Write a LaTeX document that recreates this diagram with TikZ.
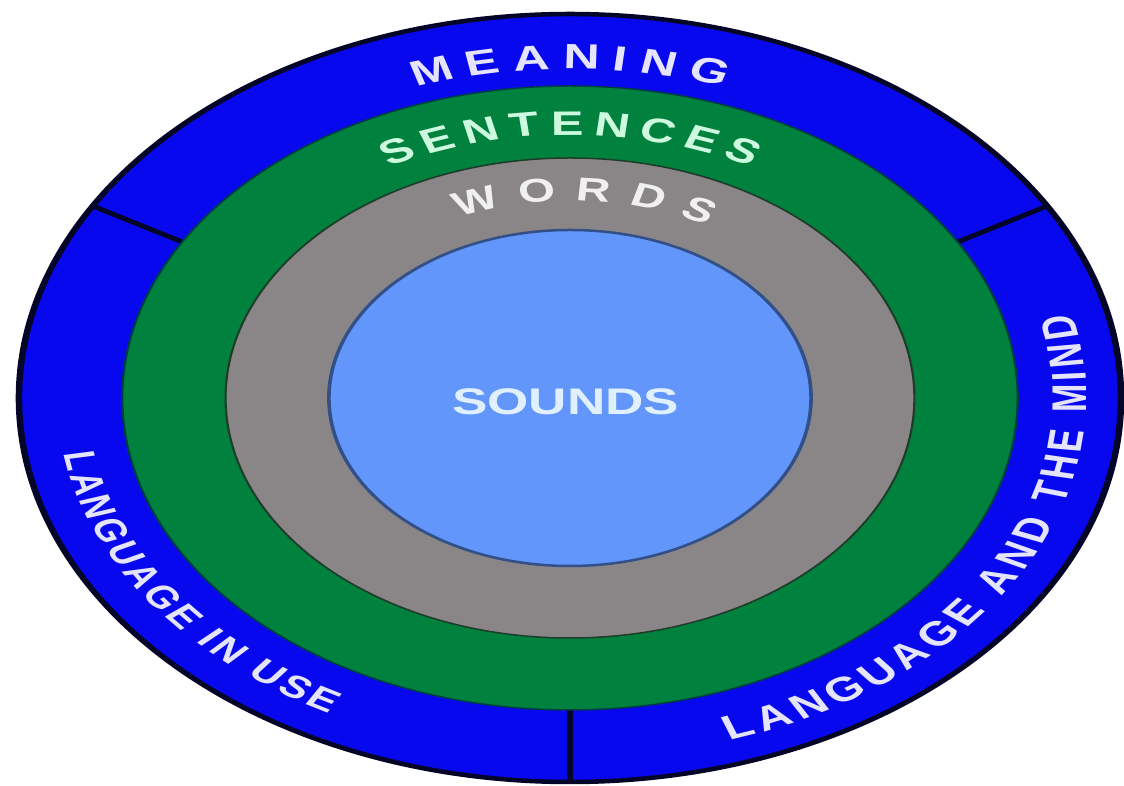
\documentclass[tikz,border=0pt]{standalone}
\usepackage{fontspec}
\usetikzlibrary{decorations.text}
\newfontfamily\labfont{Liberation Sans}
\definecolor{ringblue}{RGB}{8,8,238}
\definecolor{ringgreen}{RGB}{0,130,62}
\definecolor{ringgray}{RGB}{138,134,136}
\definecolor{soundblue}{RGB}{98,150,250}
\definecolor{borderc}{RGB}{5,5,40}
\definecolor{greenline}{RGB}{0,60,70}
\definecolor{grayline}{RGB}{30,60,40}
\definecolor{soundline}{RGB}{50,80,135}
\definecolor{tmean}{RGB}{228,228,255}
\definecolor{tsent}{RGB}{205,250,222}
\definecolor{tword}{RGB}{240,240,240}
\definecolor{tsound}{RGB}{225,240,255}
\newcommand\fmean{\labfont\bfseries\fontsize{35}{35}\selectfont\color{tmean}}
\newcommand\fsent{\labfont\bfseries\fontsize{34}{34}\selectfont\color{tsent}}
\newcommand\fword{\labfont\bfseries\fontsize{33}{33}\selectfont\color{tword}}
\newcommand\fleftside{\labfont\bfseries\fontsize{31}{31}\selectfont\color{tmean}}
\newcommand\frightside{\labfont\bfseries\fontsize{34}{34}\selectfont\color{tmean}}
\begin{document}
\begin{tikzpicture}[x=1pt,y=1pt,
  ringtext/.style={decorate, decoration={text along path, text align={fit to path}, text={#1}}},
  divider/.style={draw=borderc, line width=4.5}]
\fill[white] (0,0) rectangle (1124,786);
\useasboundingbox (0,0) rectangle (1124,786);
\begin{scope}[transform canvas={xscale=1.435}, shift={(397.2,388)}]
  % outer ring
  \draw[fill=ringblue, draw=borderc, line width=4.5] (0,0) circle[radius=384];
  % dividers
  \draw[divider] (150:300) -- (150:385);
  \draw[divider] (30:300) -- (30:385);
  \draw[divider] (270:300) -- (270:385);
  % green ring
  \draw[fill=ringgreen, draw=greenline, line width=1.5] (0,0) circle[radius=312];
  % gray ring
  \draw[fill=ringgray, draw=grayline, line width=1.5] (0,0) circle[radius=240];
  % sounds
  \draw[fill=soundblue, draw=soundline, line width=2.5] (0,0) circle[radius=168];
  \node[inner sep=0pt] (sounds) at (-3,-4) {\labfont\bfseries\fontsize{37}{37}\selectfont\color{tsound}SOUNDS};
  % ring texts
  \path[ringtext={|\fmean|MEANING}] (109:329) arc[start angle=109, end angle=71, radius=329];
  \path[ringtext={|\fsent|SENTENCES}] (118.5:263) arc[start angle=118.5, end angle=61.5, radius=263];
  \path[ringtext={|\fword|WORDS}] (113:197) arc[start angle=113, end angle=61, radius=197];
  \path[ringtext={|\fleftside|LANGUAGE IN USE}] (189:357) arc[start angle=189, end angle=242, radius=357];
  \path[ringtext={|\frightside|LANGUAGE AND THE MIND}] (288:360) arc[start angle=288, end angle=373.5, radius=360];
\end{scope}
\end{tikzpicture}
\end{document}
